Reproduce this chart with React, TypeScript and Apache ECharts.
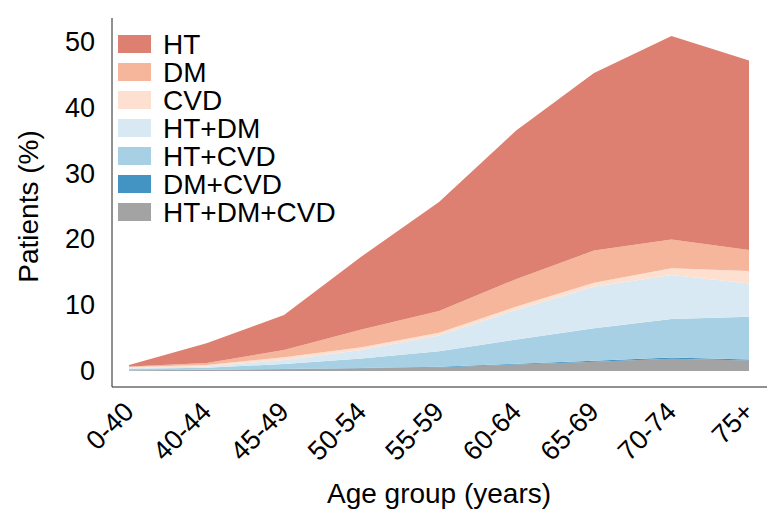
import React, { useEffect, useRef } from "react";
import * as echarts from "echarts";

const categories = ["0-40", "40-44", "45-49", "50-54", "55-59", "60-64", "65-69", "70-74", "75+"];

// stacked from bottom to top
const htDmCvd = [0.1, 0.15, 0.25, 0.4, 0.55, 1.0, 1.4, 1.85, 1.6];
const dmCvd = [0.02, 0.05, 0.05, 0.05, 0.1, 0.1, 0.17, 0.2, 0.15];
const htCvd = [0.23, 0.3, 0.76, 1.45, 2.35, 3.7, 4.93, 5.85, 6.5];
const htDm = [0.15, 0.2, 0.61, 1.3, 2.4, 4.5, 6.3, 6.7, 5.05];
const cvd = [0.1, 0.2, 0.43, 0.4, 0.4, 0.5, 0.6, 1.0, 1.9];
const dm = [0.1, 0.3, 1.1, 2.7, 3.3, 4.2, 4.9, 4.4, 3.2];
const ht = [0.2, 3.0, 5.3, 11.1, 16.6, 22.6, 27.0, 30.9, 28.8];

const yTicks = [0, 10, 20, 30, 40, 50];

const layers = [
  { name: "HT+DM+CVD", data: htDmCvd, color: "#a3a3a3" },
  { name: "DM+CVD", data: dmCvd, color: "#4393c3" },
  { name: "HT+CVD", data: htCvd, color: "#a8d0e5" },
  { name: "HT+DM", data: htDm, color: "#d9e9f3" },
  { name: "CVD", data: cvd, color: "#fde0d0" },
  { name: "DM", data: dm, color: "#f6b69b" },
  { name: "HT", data: ht, color: "#dd7f71" },
];

const legendOrder = ["HT", "DM", "CVD", "HT+DM", "HT+CVD", "DM+CVD", "HT+DM+CVD"];

const FONT = "'Liberation Sans', Arial, sans-serif";

export default function App() {
  const ref = useRef<HTMLDivElement>(null);
  useEffect(() => {
    if (!ref.current) return;
    const chart = echarts.init(ref.current, undefined, { renderer: "svg" });
    chart.setOption({
      animation: false,
      backgroundColor: "#ffffff",
      textStyle: { fontFamily: FONT },
      grid: { left: 129, right: 18, top: 42, bottom: 143, containLabel: false },
      legend: {
        data: legendOrder,
        orient: "vertical",
        left: 113,
        top: 25,
        padding: 5,
        itemWidth: 33,
        itemHeight: 18,
        itemGap: 0,
        icon: "rect",
        textStyle: { fontSize: 28, color: "#000", fontFamily: FONT, lineHeight: 28, padding: [0, 0, 0, 7] },
      },
      xAxis: {
        type: "category",
        data: categories,
        boundaryGap: false,
        axisLine: { show: false },
        axisTick: { show: false },
        splitLine: { show: false },
        axisLabel: { rotate: 45, margin: 36, fontSize: 27, color: "#000", fontFamily: FONT, interval: 0 },
        name: "Age group (years)",
        nameLocation: "middle",
        nameGap: 108,
        nameTextStyle: { fontSize: 28, color: "#000", fontFamily: FONT },
      },
      yAxis: {
        type: "value",
        min: yTicks[0],
        max: yTicks[yTicks.length - 1],
        interval: 10,
        axisLine: { show: false },
        axisTick: { show: false },
        splitLine: { show: false },
        axisLabel: { margin: 34, fontSize: 27, color: "#000", fontFamily: FONT },
        name: "Patients (%)",
        nameLocation: "middle",
        nameGap: 87,
        nameTextStyle: { fontSize: 28, color: "#000", fontFamily: FONT },
      },
      graphic: [
        { type: "line", shape: { x1: 112, y1: 18, x2: 112, y2: 387 }, style: { stroke: "#222", lineWidth: 1 } },
        { type: "line", shape: { x1: 112, y1: 387, x2: 767, y2: 387 }, style: { stroke: "#222", lineWidth: 1 } },
      ],
      series: layers.map((l) => ({
        name: l.name,
        type: "line",
        stack: "total",
        data: l.data,
        symbol: "none",
        clip: false,
        lineStyle: { width: 0, color: l.color },
        itemStyle: { color: l.color },
        areaStyle: { color: l.color, opacity: 1 },
        emphasis: { disabled: true },
      })),
    });
    return () => chart.dispose();
  }, []);
  return <div ref={ref} style={{ position: "fixed", left: 0, top: 0, width: 767, height: 514 }} />;
}
